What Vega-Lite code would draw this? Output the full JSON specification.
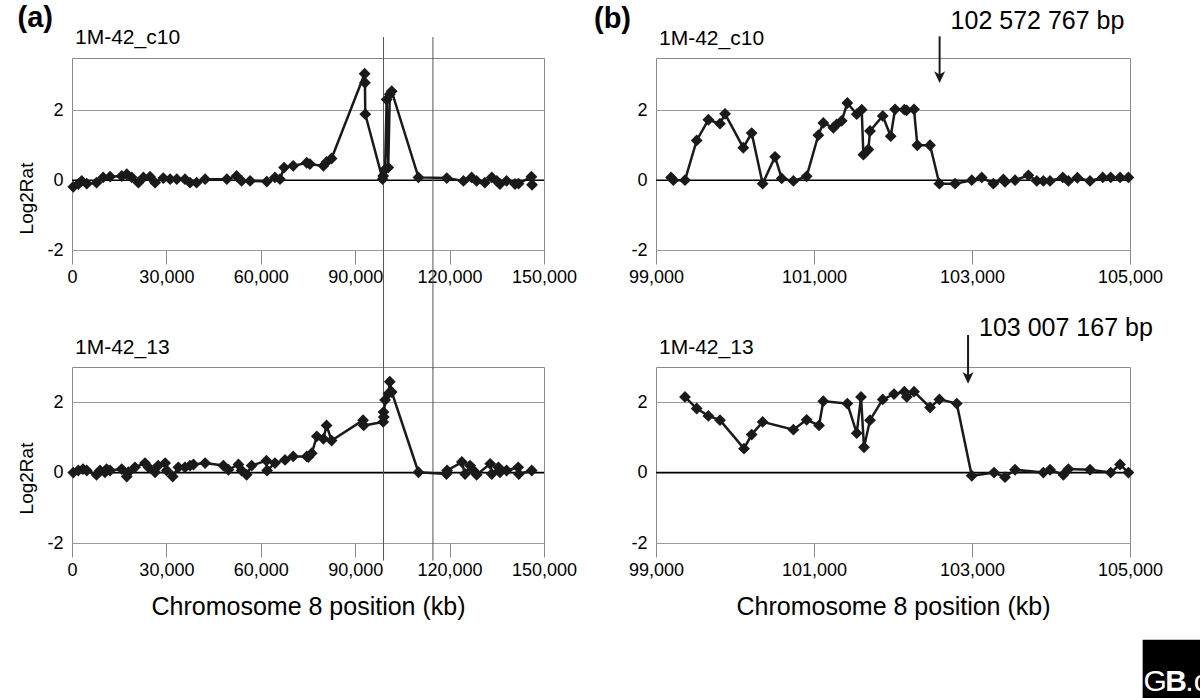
{
  "$schema": "https://vega.github.io/schema/vega-lite/v6.json",
  "background": "white",
  "padding": {"left": 17, "top": 4, "right": 0, "bottom": 0},
  "datasets": {
    "aTop": [
      {"x": 400, "y": -0.19}, {"x": 2000, "y": -0.11}, {"x": 3100, "y": -0.02}, {"x": 4700, "y": -0.1},
      {"x": 7800, "y": -0.07}, {"x": 9900, "y": 0.08}, {"x": 12100, "y": 0.1}, {"x": 15800, "y": 0.12},
      {"x": 17400, "y": 0.17}, {"x": 19000, "y": 0.08}, {"x": 21100, "y": -0.07}, {"x": 22700, "y": 0.08},
      {"x": 24800, "y": 0.1}, {"x": 26400, "y": -0.07}, {"x": 29000, "y": 0.06}, {"x": 31200, "y": 0.03},
      {"x": 33300, "y": 0.03}, {"x": 35900, "y": 0.03}, {"x": 37500, "y": -0.07}, {"x": 39600, "y": -0.07},
      {"x": 42300, "y": 0.03}, {"x": 49200, "y": 0.03}, {"x": 52300, "y": 0.12}, {"x": 53900, "y": -0.02},
      {"x": 56600, "y": -0.02}, {"x": 61900, "y": -0.04}, {"x": 64500, "y": 0.08}, {"x": 66100, "y": 0.03},
      {"x": 67400, "y": 0.36}, {"x": 70300, "y": 0.41}, {"x": 74600, "y": 0.5}, {"x": 75600, "y": 0.46},
      {"x": 79900, "y": 0.41}, {"x": 80900, "y": 0.52}, {"x": 82500, "y": 0.62}, {"x": 93000, "y": 3.05},
      {"x": 93100, "y": 2.79}, {"x": 93200, "y": 1.89}, {"x": 98700, "y": 0.03}, {"x": 98900, "y": 0.12},
      {"x": 99500, "y": 0.31}, {"x": 100000, "y": 2.31}, {"x": 100500, "y": 0.36}, {"x": 101000, "y": 2.46},
      {"x": 101600, "y": 2.55}, {"x": 110100, "y": 0.08}, {"x": 119100, "y": 0.06}, {"x": 124400, "y": -0.02},
      {"x": 127000, "y": 0.08}, {"x": 128600, "y": -0.02}, {"x": 131200, "y": -0.07}, {"x": 133400, "y": 0.08},
      {"x": 135000, "y": -0.02}, {"x": 136000, "y": -0.11}, {"x": 138100, "y": -0.02}, {"x": 140800, "y": -0.11},
      {"x": 141900, "y": -0.1}, {"x": 146000, "y": 0.1}, {"x": 146200, "y": -0.13}
    ],
    "aBottom": [
      {"x": 400, "y": 0}, {"x": 2000, "y": 0.06}, {"x": 3500, "y": 0.1}, {"x": 4700, "y": 0.06},
      {"x": 7800, "y": -0.06}, {"x": 8900, "y": 0.06}, {"x": 10500, "y": 0.01}, {"x": 11000, "y": 0.1},
      {"x": 12100, "y": 0.06}, {"x": 15800, "y": 0.1}, {"x": 17400, "y": -0.11}, {"x": 17900, "y": 0.01},
      {"x": 20000, "y": 0.15}, {"x": 23200, "y": 0.27}, {"x": 24300, "y": 0.15}, {"x": 26400, "y": 0.01},
      {"x": 27400, "y": 0.2}, {"x": 29600, "y": 0.27}, {"x": 30100, "y": 0.06}, {"x": 32000, "y": -0.11},
      {"x": 33800, "y": 0.15}, {"x": 35900, "y": 0.15}, {"x": 37500, "y": 0.2}, {"x": 38600, "y": 0.23},
      {"x": 42300, "y": 0.27}, {"x": 48100, "y": 0.2}, {"x": 49700, "y": 0.08}, {"x": 52900, "y": 0.23},
      {"x": 53900, "y": 0.06}, {"x": 55500, "y": -0.06}, {"x": 57100, "y": 0.2}, {"x": 61800, "y": 0.34},
      {"x": 62000, "y": 0.06}, {"x": 64500, "y": 0.27}, {"x": 67700, "y": 0.36}, {"x": 70300, "y": 0.46},
      {"x": 74600, "y": 0.46}, {"x": 75100, "y": 0.44}, {"x": 76200, "y": 0.55}, {"x": 77800, "y": 1.03},
      {"x": 79900, "y": 0.96}, {"x": 80900, "y": 1.34}, {"x": 82500, "y": 0.91}, {"x": 92500, "y": 1.49},
      {"x": 92700, "y": 1.34}, {"x": 98900, "y": 1.44}, {"x": 99000, "y": 1.72}, {"x": 99100, "y": 1.58},
      {"x": 99500, "y": 2.06}, {"x": 100600, "y": 2.25}, {"x": 101000, "y": 2.58}, {"x": 101600, "y": 2.29},
      {"x": 110100, "y": 0.01}, {"x": 119000, "y": -0.04}, {"x": 119200, "y": 0.06}, {"x": 123900, "y": 0.3},
      {"x": 124900, "y": -0.04}, {"x": 126500, "y": 0.2}, {"x": 127600, "y": 0.06}, {"x": 128600, "y": -0.06},
      {"x": 132900, "y": 0.25}, {"x": 133400, "y": -0.04}, {"x": 135500, "y": 0.15}, {"x": 136000, "y": 0.01},
      {"x": 138100, "y": 0.06}, {"x": 141800, "y": 0.15}, {"x": 142000, "y": -0.04}, {"x": 146100, "y": 0.06}
    ],
    "bTop": [
      {"x": 99190, "y": 0.08}, {"x": 99220, "y": 0}, {"x": 99367, "y": 0}, {"x": 99515, "y": 1.14},
      {"x": 99663, "y": 1.73}, {"x": 99810, "y": 1.62}, {"x": 99874, "y": 1.9}, {"x": 100105, "y": 0.93},
      {"x": 100211, "y": 1.35}, {"x": 100350, "y": -0.1}, {"x": 100507, "y": 0.67}, {"x": 100591, "y": 0.05},
      {"x": 100739, "y": -0.02}, {"x": 100907, "y": 0.11}, {"x": 101055, "y": 1.29}, {"x": 101118, "y": 1.64},
      {"x": 101245, "y": 1.5}, {"x": 101287, "y": 1.6}, {"x": 101351, "y": 1.7}, {"x": 101422, "y": 2.21},
      {"x": 101541, "y": 1.89}, {"x": 101604, "y": 2.02}, {"x": 101625, "y": 0.73}, {"x": 101688, "y": 0.88},
      {"x": 101709, "y": 1.41}, {"x": 101870, "y": 1.84}, {"x": 101971, "y": 1.26}, {"x": 102026, "y": 2.03},
      {"x": 102144, "y": 2.02}, {"x": 102173, "y": 2.0}, {"x": 102266, "y": 2.03}, {"x": 102308, "y": 1.0},
      {"x": 102469, "y": 1.0}, {"x": 102587, "y": -0.1}, {"x": 102785, "y": -0.1}, {"x": 102997, "y": 0},
      {"x": 103123, "y": 0.08}, {"x": 103270, "y": -0.1}, {"x": 103397, "y": 0.02}, {"x": 103418, "y": -0.05},
      {"x": 103545, "y": 0}, {"x": 103714, "y": 0.14}, {"x": 103820, "y": -0.02}, {"x": 103903, "y": -0.02},
      {"x": 103988, "y": -0.02}, {"x": 104149, "y": 0.08}, {"x": 104220, "y": -0.02}, {"x": 104334, "y": 0.07},
      {"x": 104494, "y": -0.02}, {"x": 104655, "y": 0.08}, {"x": 104756, "y": 0.08}, {"x": 104874, "y": 0.08},
      {"x": 104980, "y": 0.08}
    ],
    "bBottom": [
      {"x": 99367, "y": 2.15}, {"x": 99515, "y": 1.82}, {"x": 99663, "y": 1.61}, {"x": 99810, "y": 1.49},
      {"x": 100114, "y": 0.68}, {"x": 100211, "y": 1.08}, {"x": 100350, "y": 1.44}, {"x": 100739, "y": 1.22},
      {"x": 100907, "y": 1.5}, {"x": 101064, "y": 1.34}, {"x": 101118, "y": 2.03}, {"x": 101422, "y": 1.96},
      {"x": 101541, "y": 1.12}, {"x": 101595, "y": 2.15}, {"x": 101633, "y": 0.72}, {"x": 101709, "y": 1.49},
      {"x": 101870, "y": 2.08}, {"x": 102013, "y": 2.23}, {"x": 102144, "y": 2.3}, {"x": 102174, "y": 2.15},
      {"x": 102266, "y": 2.3}, {"x": 102469, "y": 1.85}, {"x": 102587, "y": 2.08}, {"x": 102807, "y": 1.96},
      {"x": 102997, "y": -0.09}, {"x": 103279, "y": 0}, {"x": 103418, "y": -0.13}, {"x": 103545, "y": 0.08},
      {"x": 103903, "y": 0}, {"x": 103988, "y": 0.08}, {"x": 104157, "y": -0.06}, {"x": 104220, "y": 0.1},
      {"x": 104494, "y": 0.08}, {"x": 104756, "y": 0}, {"x": 104874, "y": 0.23}, {"x": 104980, "y": 0}
    ],
    "marksA": [{"x": 99000}, {"x": 114700}],
    "zero": [{"y": 0}],
    "annTop": [{"x": 102590, "label": "102 572 767 bp"}],
    "annBottom": [{"x": 102950, "label": "103 007 167 bp"}],
    "logo": [{"g": "G", "b": "B", "c": ".c"}]
  },
  "config": {
    "font": "Liberation Sans",
    "view": {"stroke": "#8a8a8a", "strokeWidth": 1},
    "axis": {
      "labelFont": "Liberation Sans", "labelFontSize": 18, "labelColor": "black",
      "titleFont": "Liberation Sans", "titleFontWeight": "normal", "titleColor": "black",
      "domain": false, "gridColor": "#9a9a9a", "gridWidth": 1, "tickColor": "#8a8a8a",
      "labelOverlap": false, "labelFlush": false
    },
    "title": {"font": "Liberation Sans", "color": "black", "anchor": "start"}
  },
  "spacing": 15,
  "hconcat": [
    {
      "title": {"text": "(a)", "fontSize": 29, "fontWeight": "bold", "anchor": "start", "offset": -7, "dx": 0},
      "bounds": "flush",
      "spacing": 117,
      "vconcat": [
        {
          "width": 472, "height": 192,
          "title": {"text": "1M-42_c10", "fontSize": 21, "fontWeight": "normal", "anchor": "start", "frame": "group", "dx": 3, "offset": -11},
          "layer": [
            {
              "data": {"name": "zero"},
              "mark": {"type": "rule", "color": "black", "strokeWidth": 1.5},
              "encoding": {"y": {"field": "y", "type": "quantitative"}}
            },
            {
              "data": {"name": "marksA"},
              "mark": {"type": "rule", "color": "#555555", "strokeWidth": 1, "clip": false},
              "encoding": {
                "x": {"field": "x", "type": "quantitative"},
                "y": {"datum": 4.1, "type": "quantitative"},
                "y2": {"datum": -5.4}
              }
            },
            {
              "data": {"name": "aTop"},
              "mark": {"type": "line", "color": "#1a1a1a", "strokeWidth": 2.5},
              "encoding": {
                "x": {"field": "x", "type": "quantitative", "scale": {"domain": [0, 150000], "nice": false},
                      "axis": {"title": null, "values": [0, 30000, 60000, 90000, 120000, 150000], "format": ",d", "grid": false, "tickSize": 14, "labelPadding": 4}},
                "y": {"field": "y", "type": "quantitative", "scale": {"domain": [-2, 3.5], "nice": false, "zero": false},
                      "axis": {"title": "Log2Rat", "titleFontSize": 19, "titleY": 140, "values": [-2, -1, 0, 1, 2, 3], "labelExpr": "replace(datum.label, '\u2212', '-')", "ticks": false, "labelPadding": 9, "titlePadding": 10}}
              }
            },
            {
              "data": {"name": "aTop"},
              "mark": {"type": "point", "shape": "diamond", "filled": true, "color": "#1a1a1a", "size": 140, "opacity": 1},
              "encoding": {
                "x": {"field": "x", "type": "quantitative"},
                "y": {"field": "y", "type": "quantitative"}
              }
            }
          ]
        },
        {
          "width": 472, "height": 176,
          "title": {"text": "1M-42_13", "fontSize": 21, "fontWeight": "normal", "anchor": "start", "frame": "group", "dx": 3, "offset": 9},
          "layer": [
            {
              "data": {"name": "zero"},
              "mark": {"type": "rule", "color": "black", "strokeWidth": 1.5},
              "encoding": {"y": {"field": "y", "type": "quantitative"}}
            },
            {
              "data": {"name": "marksA"},
              "mark": {"type": "rule", "color": "#555555", "strokeWidth": 1, "clip": false},
              "encoding": {
                "x": {"field": "x", "type": "quantitative"},
                "y": {"datum": 3, "type": "quantitative"},
                "y2": {"datum": -2.5}
              }
            },
            {
              "data": {"name": "aBottom"},
              "mark": {"type": "line", "color": "#1a1a1a", "strokeWidth": 2.5},
              "encoding": {
                "x": {"field": "x", "type": "quantitative", "scale": {"domain": [0, 150000], "nice": false},
                      "axis": {"title": "Chromosome 8 position (kb)", "titleFontSize": 25, "titlePadding": 15, "values": [0, 30000, 60000, 90000, 120000, 150000], "format": ",d", "grid": false, "tickSize": 14, "labelPadding": 4}},
                "y": {"field": "y", "type": "quantitative", "scale": {"domain": [-2, 3], "nice": false, "zero": false},
                      "axis": {"title": "Log2Rat", "titleFontSize": 19, "titleY": 111, "values": [-2, -1, 0, 1, 2, 3], "labelExpr": "replace(datum.label, '\u2212', '-')", "ticks": false, "labelPadding": 9, "titlePadding": 10}}
              }
            },
            {
              "data": {"name": "aBottom"},
              "mark": {"type": "point", "shape": "diamond", "filled": true, "color": "#1a1a1a", "size": 140, "opacity": 1},
              "encoding": {
                "x": {"field": "x", "type": "quantitative"},
                "y": {"field": "y", "type": "quantitative"}
              }
            }
          ]
        }
      ]
    },
    {
      "title": {"text": "(b)", "fontSize": 29, "fontWeight": "bold", "anchor": "start", "offset": -25, "dx": -34},
      "bounds": "flush",
      "spacing": 117,
      "vconcat": [
        {
          "width": 474, "height": 192,
          "title": {"text": "1M-42_c10", "fontSize": 21, "fontWeight": "normal", "anchor": "start", "frame": "group", "dx": 3, "offset": -40},
          "layer": [
            {
              "data": {"name": "zero"},
              "mark": {"type": "rule", "color": "black", "strokeWidth": 1.5},
              "encoding": {"y": {"field": "y", "type": "quantitative"}}
            },
            {
              "data": {"name": "bTop"},
              "mark": {"type": "line", "color": "#1a1a1a", "strokeWidth": 2.5},
              "encoding": {
                "x": {"field": "x", "type": "quantitative", "scale": {"domain": [99000, 105000], "nice": false, "zero": false},
                      "axis": {"title": null, "values": [99000, 101000, 103000, 105000], "format": ",d", "grid": false, "tickSize": 14, "labelPadding": 4}},
                "y": {"field": "y", "type": "quantitative", "scale": {"domain": [-2, 3.5], "nice": false, "zero": false},
                      "axis": {"title": null, "values": [-2, -1, 0, 1, 2, 3], "labelExpr": "replace(datum.label, '\u2212', '-')", "ticks": false, "labelPadding": 9}}
              }
            },
            {
              "data": {"name": "bTop"},
              "mark": {"type": "point", "shape": "diamond", "filled": true, "color": "#1a1a1a", "size": 140, "opacity": 1},
              "encoding": {
                "x": {"field": "x", "type": "quantitative"},
                "y": {"field": "y", "type": "quantitative"}
              }
            },
            {
              "data": {"name": "annTop"},
              "mark": {"type": "rule", "color": "#1a1a1a", "strokeWidth": 2, "clip": false},
              "encoding": {
                "x": {"field": "x", "type": "quantitative"},
                "y": {"datum": 4.12, "type": "quantitative"},
                "y2": {"datum": 2.95}
              }
            },
            {
              "data": {"name": "annTop"},
              "mark": {"type": "point", "shape": "M0,1 L-0.8,-0.7 L0,-0.25 L0.8,-0.7 Z", "filled": true, "color": "#1a1a1a", "size": 190, "opacity": 1, "clip": false},
              "encoding": {
                "x": {"field": "x", "type": "quantitative"},
                "y": {"datum": 2.98, "type": "quantitative"}
              }
            },
            {
              "data": {"name": "annTop"},
              "mark": {"type": "text", "align": "left", "baseline": "alphabetic", "fontSize": 25, "dx": 11, "color": "black", "clip": false},
              "encoding": {
                "x": {"field": "x", "type": "quantitative"},
                "y": {"datum": 4.33, "type": "quantitative"},
                "text": {"field": "label"}
              }
            }
          ]
        },
        {
          "width": 474, "height": 176,
          "title": {"text": "1M-42_13", "fontSize": 21, "fontWeight": "normal", "anchor": "start", "frame": "group", "dx": 3, "offset": -42},
          "layer": [
            {
              "data": {"name": "zero"},
              "mark": {"type": "rule", "color": "black", "strokeWidth": 1.5},
              "encoding": {"y": {"field": "y", "type": "quantitative"}}
            },
            {
              "data": {"name": "bBottom"},
              "mark": {"type": "line", "color": "#1a1a1a", "strokeWidth": 2.5},
              "encoding": {
                "x": {"field": "x", "type": "quantitative", "scale": {"domain": [99000, 105000], "nice": false, "zero": false},
                      "axis": {"title": "Chromosome 8 position (kb)", "titleFontSize": 25, "titlePadding": 15, "values": [99000, 101000, 103000, 105000], "format": ",d", "grid": false, "tickSize": 14, "labelPadding": 4}},
                "y": {"field": "y", "type": "quantitative", "scale": {"domain": [-2, 3], "nice": false, "zero": false},
                      "axis": {"title": null, "values": [-2, -1, 0, 1, 2, 3], "labelExpr": "replace(datum.label, '\u2212', '-')", "ticks": false, "labelPadding": 9}}
              }
            },
            {
              "data": {"name": "bBottom"},
              "mark": {"type": "point", "shape": "diamond", "filled": true, "color": "#1a1a1a", "size": 140, "opacity": 1},
              "encoding": {
                "x": {"field": "x", "type": "quantitative"},
                "y": {"field": "y", "type": "quantitative"}
              }
            },
            {
              "data": {"name": "annBottom"},
              "mark": {"type": "rule", "color": "#1a1a1a", "strokeWidth": 2, "clip": false},
              "encoding": {
                "x": {"field": "x", "type": "quantitative"},
                "y": {"datum": 3.91, "type": "quantitative"},
                "y2": {"datum": 2.7}
              }
            },
            {
              "data": {"name": "annBottom"},
              "mark": {"type": "point", "shape": "M0,1 L-0.8,-0.7 L0,-0.25 L0.8,-0.7 Z", "filled": true, "color": "#1a1a1a", "size": 190, "opacity": 1, "clip": false},
              "encoding": {
                "x": {"field": "x", "type": "quantitative"},
                "y": {"datum": 2.72, "type": "quantitative"}
              }
            },
            {
              "data": {"name": "annBottom"},
              "mark": {"type": "text", "align": "left", "baseline": "alphabetic", "fontSize": 25, "dx": 11, "color": "black", "clip": false},
              "encoding": {
                "x": {"field": "x", "type": "quantitative"},
                "y": {"datum": 3.88, "type": "quantitative"},
                "text": {"field": "label"}
              }
            },
            {
              "data": {"name": "logo"},
              "mark": {"type": "point", "shape": "square", "filled": true, "color": "black", "size": 3600, "opacity": 1, "clip": false},
              "encoding": {
                "x": {"datum": 105540, "type": "quantitative"},
                "y": {"datum": -5.6, "type": "quantitative"}
              }
            },
            {
              "data": {"name": "logo"},
              "mark": {"type": "text", "align": "left", "baseline": "alphabetic", "fontSize": 30, "color": "white", "clip": false},
              "encoding": {
                "x": {"datum": 105170, "type": "quantitative"},
                "y": {"datum": -6.2, "type": "quantitative"},
                "text": {"field": "g"}
              }
            },
            {
              "data": {"name": "logo"},
              "mark": {"type": "text", "align": "left", "baseline": "alphabetic", "fontSize": 30, "fontWeight": "bold", "color": "white", "clip": false},
              "encoding": {
                "x": {"datum": 105445, "type": "quantitative"},
                "y": {"datum": -6.2, "type": "quantitative"},
                "text": {"field": "b"}
              }
            },
            {
              "data": {"name": "logo"},
              "mark": {"type": "text", "align": "left", "baseline": "alphabetic", "fontSize": 30, "color": "white", "clip": false},
              "encoding": {
                "x": {"datum": 105700, "type": "quantitative"},
                "y": {"datum": -6.2, "type": "quantitative"},
                "text": {"field": "c"}
              }
            }
          ]
        }
      ]
    }
  ]
}
